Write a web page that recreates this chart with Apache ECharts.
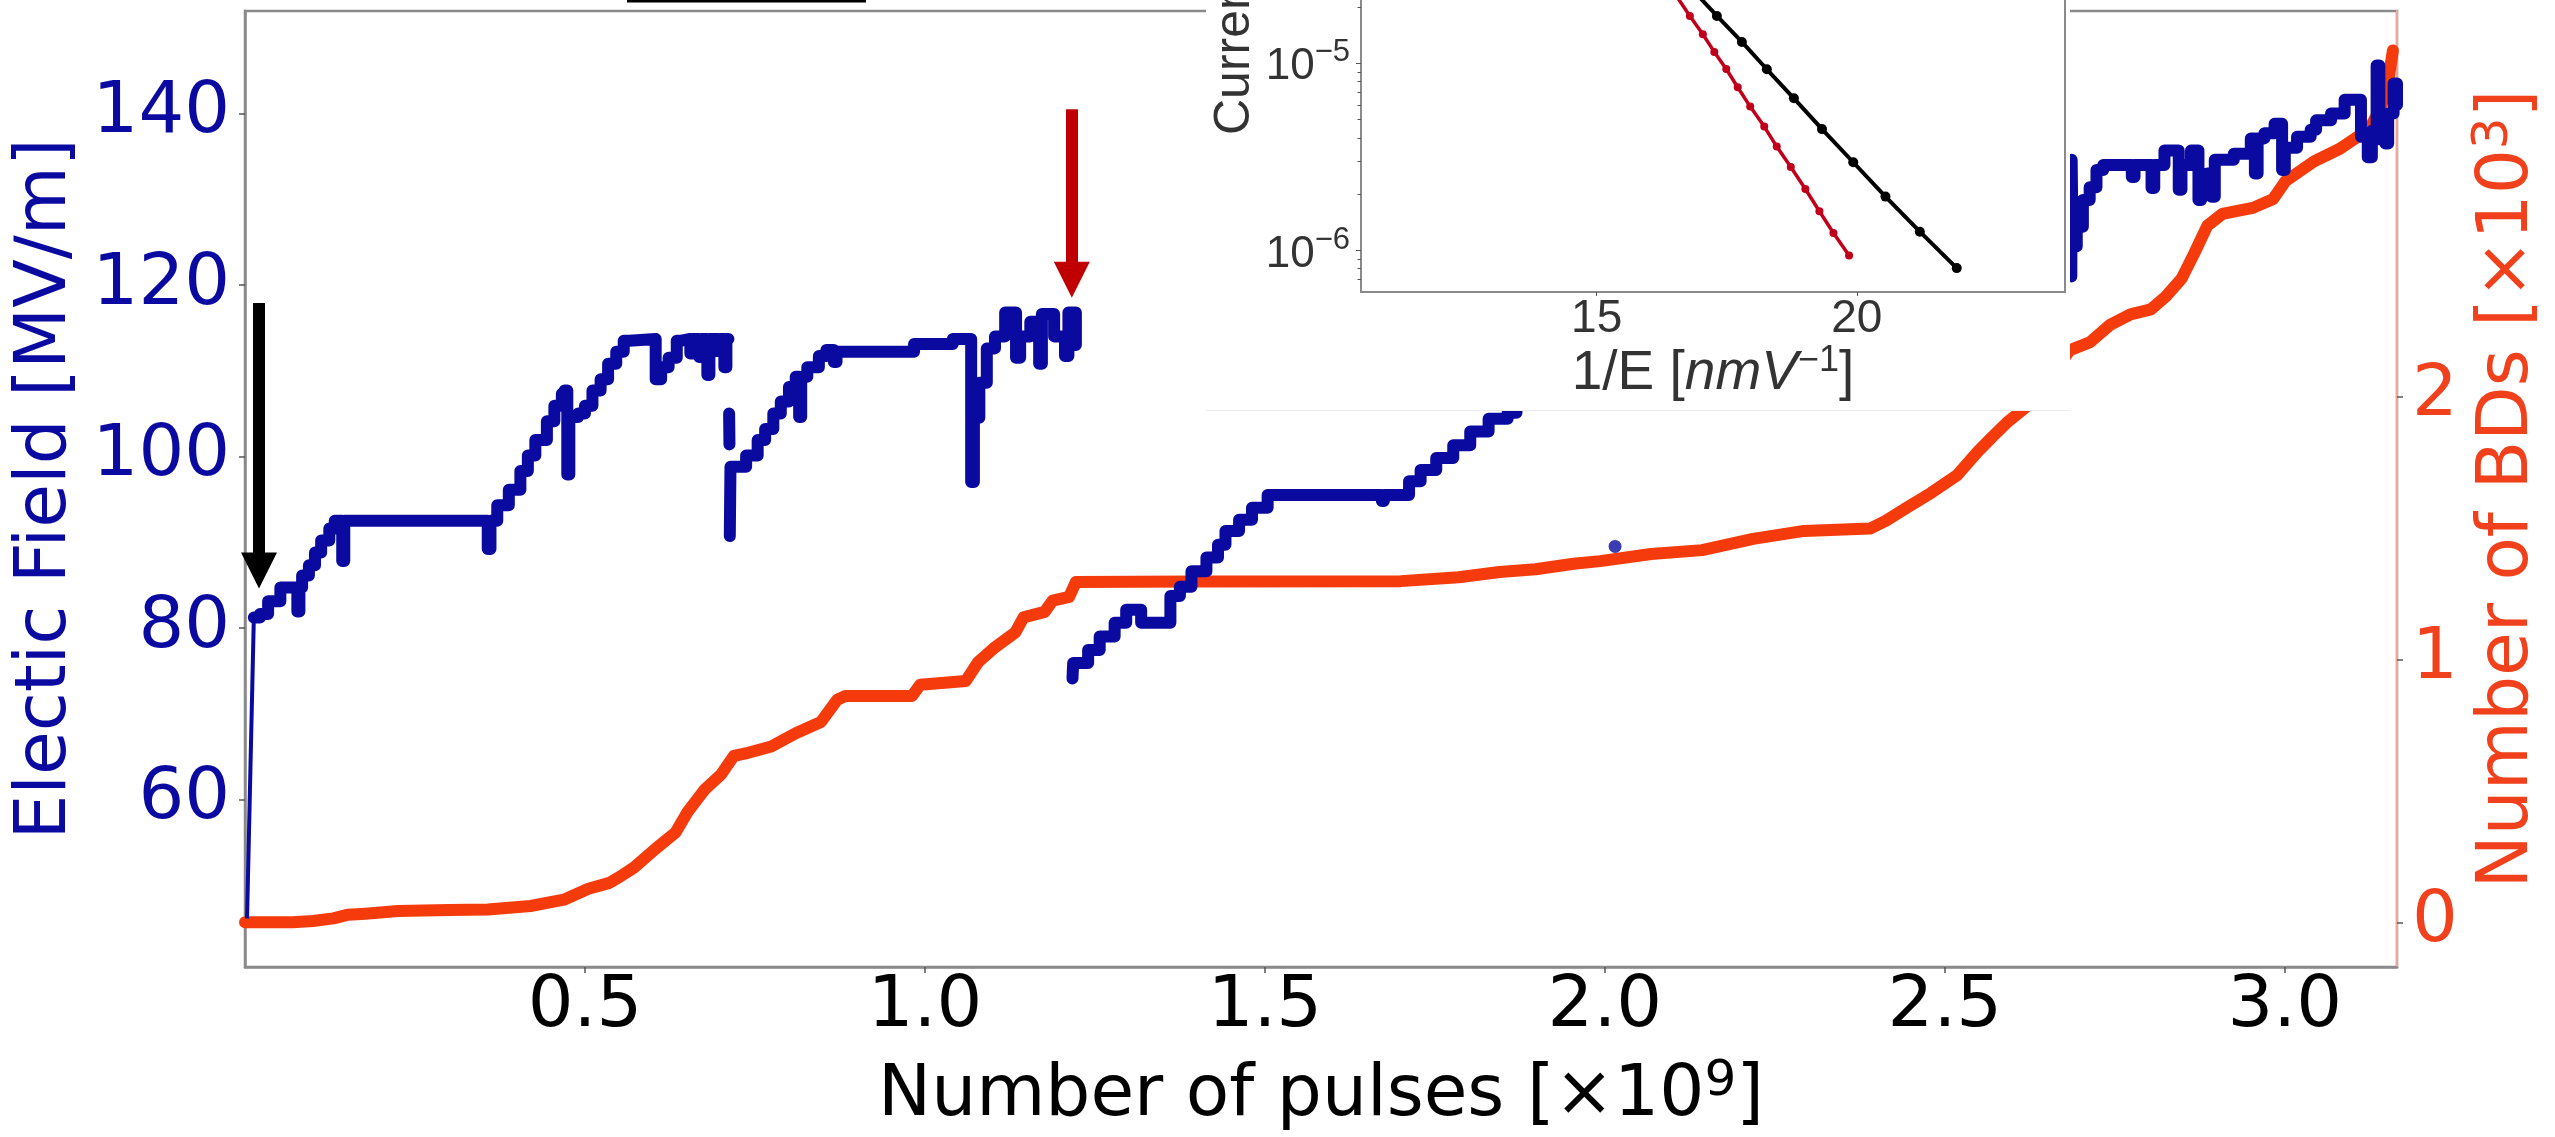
<!DOCTYPE html>
<html>
<head>
<meta charset="utf-8">
<title>Conditioning history</title>
<script src="https://cdn.jsdelivr.net/npm/echarts@6/dist/echarts.min.js"></script>
<style>
html, body { margin: 0; padding: 0; background: #fff; }
#chart { width: 2555px; height: 1137px; }
</style>
</head>
<body>
<div id="chart"></div>
<script>
// main plot: x = number of pulses [x1e9]
// first ramp of the field, drawn thin
var fieldRamp = [[0.003, 46.1], [0.013, 81.2]];
// field [MV/m] on the left axis, drawn as steps, '-' breaks the line
var fieldData = [
  [0.013, 81.2], [0.022, 81.6], [0.034, 83.1], [0.052, 84.7], [0.077, 81.9], [0.080, 84.7],
  [0.084, 86.1], [0.094, 87.3], [0.103, 88.8], [0.112, 90.2], [0.124, 91.6], [0.132, 92.5], [0.143, 87.8],
  [0.146, 92.5], [0.357, 89.2], [0.361, 92.5], [0.371, 94.3], [0.388, 96.1], [0.405, 98.3], [0.416, 100.1],
  [0.427, 101.9], [0.444, 104.1], [0.455, 105.9], [0.466, 107.3], [0.470, 107.7], [0.474, 97.9], [0.477, 104.6],
  [0.490, 105.0], [0.500, 105.9], [0.511, 107.7], [0.523, 109.0], [0.534, 110.8], [0.546, 112.2], [0.557, 113.5],
  [0.565, 113.7], [0.604, 109.0], [0.612, 110.4], [0.623, 111.5], [0.635, 113.5], [0.642, 113.7], [0.655, 112.0],
  [0.658, 113.7], [0.668, 111.6], [0.671, 113.7], [0.680, 109.5], [0.683, 113.7], [0.695, 112.3], [0.698, 113.7],
  [0.705, 110.4], [0.708, 113.7], [0.711, 113.7], [0.711, '-'],
  [0.712, 105.0], [0.7125, 101.4], [0.7125, '-'],
  [0.713, 90.7], [0.714, 98.8], [0.737, 100.1], [0.754, 101.9], [0.765, 103.2], [0.777, 105.0], [0.788, 106.4],
  [0.800, 108.1], [0.810, 109.3], [0.815, 104.6], [0.818, 109.3], [0.827, 110.4], [0.844, 111.7], [0.855, 112.4],
  [0.866, 111.0], [0.870, 112.2], [0.984, 113.1], [1.041, 113.7], [1.068, 97.0], [1.072, 104.5], [1.080, 108.6],
  [1.091, 112.6], [1.103, 114.0], [1.118, 116.8], [1.134, 111.5], [1.140, 114.0], [1.155, 115.7], [1.168, 110.8],
  [1.172, 116.6], [1.190, 114.0], [1.206, 111.7], [1.211, 116.8], [1.222, 113.0], [1.222, '-'],
  [1.217, 74.1], [1.218, 75.9], [1.240, 77.4], [1.257, 79.0], [1.279, 80.6], [1.296, 82.1], [1.318, 80.6],
  [1.361, 83.7], [1.375, 84.8], [1.392, 86.6], [1.414, 88.2], [1.431, 89.7], [1.442, 91.3], [1.462, 92.6],
  [1.481, 94.0], [1.504, 95.5], [1.672, 94.8], [1.675, 95.5], [1.712, 97.1], [1.729, 98.4], [1.752, 99.8],
  [1.777, 101.3], [1.802, 102.9], [1.829, 104.4], [1.857, 105.1], [1.870, 106.0], [1.870, '-'],
  [2.686, 121.0], [2.6865, 134.6], [2.688, 124.5], [2.694, 126.8], [2.703, 129.9], [2.713, 131.4], [2.723, 133.4],
  [2.733, 134.0], [2.775, 132.6], [2.779, 134.0], [2.804, 131.3], [2.808, 134.0], [2.823, 135.7], [2.844, 131.1],
  [2.848, 134.0], [2.862, 135.7], [2.873, 129.9], [2.877, 131.5], [2.886, 133.0], [2.892, 130.3], [2.897, 134.6],
  [2.925, 135.3], [2.950, 137.1], [2.956, 133.0], [2.960, 137.1], [2.970, 137.7], [2.985, 138.8], [2.996, 133.4],
  [3.000, 136.0], [3.018, 137.3], [3.038, 138.1], [3.046, 139.2], [3.068, 140.0], [3.088, 141.6], [3.112, 137.3],
  [3.122, 134.9], [3.128, 138.0], [3.135, 145.6], [3.139, 137.0], [3.148, 136.5], [3.152, 140.0], [3.160, 143.5],
  [3.165, 141.0]
];
var fieldDot = [[2.015, 89.5]];

// cumulative breakdowns [x1e3] on the right axis
var bdData = [
  [0.0, 0.0], [0.07, 0.0], [0.10, 0.005], [0.13, 0.015], [0.152, 0.029], [0.177, 0.033], [0.225, 0.043],
  [0.30, 0.047], [0.357, 0.049], [0.42, 0.062], [0.469, 0.086], [0.505, 0.128], [0.536, 0.150], [0.554, 0.178],
  [0.572, 0.208], [0.603, 0.278], [0.633, 0.341], [0.651, 0.420], [0.676, 0.505], [0.700, 0.562], [0.719, 0.633],
  [0.740, 0.645], [0.774, 0.669], [0.810, 0.719], [0.847, 0.762], [0.871, 0.847], [0.883, 0.861], [0.981, 0.861],
  [0.993, 0.904], [1.060, 0.918], [1.078, 0.989], [1.103, 1.046], [1.133, 1.103], [1.145, 1.160], [1.176, 1.181],
  [1.188, 1.224], [1.212, 1.238], [1.222, 1.295], [1.400, 1.297], [1.700, 1.298], [1.785, 1.313], [1.845, 1.333],
  [1.898, 1.343], [1.954, 1.364], [1.993, 1.374], [2.068, 1.401], [2.143, 1.416], [2.218, 1.459], [2.293, 1.489],
  [2.390, 1.498], [2.413, 1.527], [2.443, 1.576], [2.480, 1.634], [2.518, 1.701], [2.548, 1.789], [2.570, 1.847],
  [2.593, 1.905], [2.630, 1.983], [2.684, 2.177], [2.713, 2.206], [2.743, 2.273], [2.773, 2.313], [2.803, 2.332],
  [2.825, 2.381], [2.848, 2.448], [2.867, 2.546], [2.886, 2.650], [2.908, 2.695], [2.953, 2.718], [2.983, 2.752],
  [3.001, 2.820], [3.043, 2.895], [3.081, 2.943], [3.111, 2.995], [3.126, 3.025], [3.141, 3.100], [3.152, 3.200],
  [3.159, 3.317]
];

// inset: current [A] vs 1/E [nm/V]
var insetBlack = [
  [16.85, 2.46e-5], [17.31, 1.79e-5], [17.79, 1.30e-5], [18.27, 9.29e-6], [18.79, 6.50e-6],
  [19.33, 4.45e-6], [19.93, 2.96e-6], [20.55, 1.94e-6], [21.21, 1.26e-6], [21.92, 8.05e-7]
];
var insetRed = [
  [16.55, 2.25e-5], [16.79, 1.79e-5], [17.04, 1.43e-5], [17.26, 1.15e-5], [17.49, 9.32e-6], [17.71, 7.45e-6],
  [17.95, 5.87e-6], [18.22, 4.59e-6], [18.46, 3.59e-6], [18.73, 2.79e-6], [19.01, 2.13e-6], [19.28, 1.62e-6],
  [19.55, 1.24e-6], [19.85, 9.40e-7]
];

// ticks
var xTicks = [0.5, 1.0, 1.5, 2.0, 2.5, 3.0];
var fieldTicks = [60, 80, 100, 120, 140];
var bdTicks = [0, 1, 2];
var insetXTicks = [15, 20];
var insetYTicks = [1e-6, 1e-5];
var insetYMinor = [7e-7, 8e-7, 9e-7, 2e-6, 3e-6, 4e-6, 5e-6, 6e-6, 7e-6, 8e-6, 9e-6, 2e-5];

// arrows: [x, shaft top, head centre] in field units
var blackArrow = [0.0206, 117.9, 86.7];
var redArrow = [1.216, 140.5, 120.6];

var blue = '#0a0aa0', red = '#f53a0c', gray = '#8a8a8a', tickGray = '#555';
var mainFont = 'DejaVu Sans', insetFont = 'Liberation Sans', insetText = '#333';

var chart = echarts.init(document.getElementById('chart'));

function arrow(a, color) {
  return [{ coord: [a[0], a[1]], lineStyle: { color: color } }, { coord: [a[0], a[2]] }];
}

var mainRich = function (color) {
  return {
    t: { fontSize: 71, fontFamily: mainFont, color: color, lineHeight: 80 },
    s: { fontSize: 50, fontFamily: mainFont, color: color, lineHeight: 32, verticalAlign: 'top' }
  };
};

var option = {
  animation: false,
  backgroundColor: '#fff',
  grid: [
    { left: 245, right: 158, top: 11, bottom: 170, show: true, borderColor: gray, borderWidth: 2.5,
      backgroundColor: 'transparent', outerBoundsMode: 'none' },
    { left: 1361, right: 490, top: 0, bottom: 845, outerBoundsMode: 'none' }
  ],
  xAxis: [
    {
      gridIndex: 0, type: 'value', min: 0, max: 3.165,
      axisLine: { show: true, onZero: false, lineStyle: { color: gray, width: 2.5 } },
      axisTick: { show: true, length: 6, customValues: xTicks, lineStyle: { color: tickGray, width: 1.5 } },
      axisLabel: { customValues: xTicks, margin: 4, fontSize: 72, fontFamily: mainFont, color: '#000',
        formatter: function (v) { return v.toFixed(1); } },
      splitLine: { show: false },
      name: '{t|Number of pulses [×10}{s|9}{t|]}',
      nameLocation: 'middle', nameGap: 90,
      nameTextStyle: { rich: mainRich('#000') }
    },
    {
      gridIndex: 1, type: 'value', min: 10.47, max: 24.0, z: 10,
      axisLine: { show: true, onZero: false, lineStyle: { color: gray, width: 2 } },
      axisTick: { show: true, length: 4, customValues: insetXTicks, lineStyle: { color: tickGray, width: 1 } },
      axisLabel: { customValues: insetXTicks, margin: 4, fontSize: 46, fontFamily: insetFont, color: insetText },
      splitLine: { show: false },
      name: '{t|1/E [}{i|nmV}{s|−1}{t|]}',
      nameLocation: 'middle', nameGap: 50,
      nameTextStyle: { rich: {
        t: { fontSize: 55, fontFamily: insetFont, color: insetText, lineHeight: 62 },
        i: { fontSize: 55, fontFamily: insetFont, fontStyle: 'italic', color: insetText, lineHeight: 62 },
        s: { fontSize: 36, fontFamily: insetFont, color: insetText, lineHeight: 24, verticalAlign: 'top' }
      } }
    }
  ],
  yAxis: [
    {
      gridIndex: 0, type: 'value', position: 'left', min: 40.43, max: 151.96,
      axisLine: { show: true, lineStyle: { color: gray, width: 2.5 } },
      axisTick: { show: true, length: 6, customValues: fieldTicks, lineStyle: { color: tickGray, width: 1.5 } },
      axisLabel: { customValues: fieldTicks, margin: 15, fontSize: 72, fontFamily: mainFont, color: blue },
      splitLine: { show: false },
      name: 'Electic Field [MV/m]', nameLocation: 'middle', nameRotate: 90, nameGap: 160,
      nameTextStyle: { fontSize: 71, fontFamily: mainFont, color: blue }
    },
    {
      gridIndex: 0, type: 'value', position: 'right', min: -0.170, max: 3.467,
      axisLine: { show: true, lineStyle: { color: '#eea596', width: 2 } },
      axisTick: { show: true, length: 6, customValues: bdTicks, lineStyle: { color: tickGray, width: 1.5 } },
      axisLabel: { customValues: bdTicks, margin: 15, fontSize: 72, fontFamily: mainFont, color: '#f0401c' },
      splitLine: { show: false },
      name: '{t|Number of BDs [×10}{s|3}{t|]}', nameLocation: 'middle', nameRotate: 90, nameGap: 61,
      nameTextStyle: { rich: mainRich('#f0401c') }
    },
    {
      gridIndex: 1, type: 'log', logBase: 10, position: 'left', min: 6.0e-7, max: 2.178e-5, z: 10,
      axisLine: { show: true, lineStyle: { color: gray, width: 2 } },
      axisTick: { show: true, length: 5, customValues: insetYTicks, lineStyle: { color: tickGray, width: 1 } },
      axisLabel: {
        customValues: insetYTicks, margin: 11,
        formatter: function (v) {
          var e = Math.round(Math.log(v) / Math.LN10);
          return '{b|10}{s|' + (e < 0 ? '−' + (-e) : e) + '}';
        },
        rich: {
          b: { fontSize: 44, fontFamily: insetFont, color: insetText, lineHeight: 52, verticalAlign: 'bottom' },
          s: { fontSize: 31, fontFamily: insetFont, color: insetText, lineHeight: 24, padding: [0, 0, 42, 0], verticalAlign: 'top' }
        }
      },
      splitLine: { show: false }
    },
    {
      gridIndex: 1, type: 'log', logBase: 10, position: 'left', min: 6.0e-7, max: 2.178e-5, z: 10,
      axisLine: { show: false },
      axisTick: { show: true, length: 3.5, customValues: insetYMinor, lineStyle: { color: tickGray, width: 1 } },
      axisLabel: { show: false },
      splitLine: { show: false }
    },
    {
      gridIndex: 1, type: 'value', position: 'right', min: 0, max: 1, z: 10,
      axisLine: { show: true, lineStyle: { color: gray, width: 2 } },
      axisTick: { show: false }, axisLabel: { show: false }, splitLine: { show: false }
    }
  ],
  series: [
    {
      name: 'BDs', type: 'line', xAxisIndex: 0, yAxisIndex: 1, data: bdData, z: 2,
      showSymbol: false, lineStyle: { color: red, width: 12, cap: 'round', join: 'round' }
    },
    {
      name: 'Field ramp', type: 'line', xAxisIndex: 0, yAxisIndex: 0, data: fieldRamp, z: 3,
      showSymbol: false, lineStyle: { color: blue, width: 4 }
    },
    {
      name: 'Field', type: 'line', xAxisIndex: 0, yAxisIndex: 0, data: fieldData, z: 3,
      step: 'end', connectNulls: false, showSymbol: false,
      lineStyle: { color: blue, width: 12, cap: 'round', join: 'round' },
      markLine: {
        silent: true, animation: false, symbol: ['none', 'triangle'], symbolSize: 36,
        label: { show: false },
        lineStyle: { width: 12, type: 'solid', color: '#000', cap: 'butt' },
        itemStyle: { color: '#000' },
        data: [arrow(blackArrow, '#000'), arrow(redArrow, '#c00000')]
      }
    },
    {
      name: 'Field dot', type: 'scatter', xAxisIndex: 0, yAxisIndex: 0, data: fieldDot, z: 3,
      symbolSize: 13, itemStyle: { color: blue }
    },
    {
      name: 'Inset black', type: 'line', xAxisIndex: 1, yAxisIndex: 2, data: insetBlack, z: 20,
      symbol: 'circle', symbolSize: 10, showSymbol: true,
      lineStyle: { color: '#000', width: 4 }, itemStyle: { color: '#000' }
    },
    {
      name: 'Inset red', type: 'line', xAxisIndex: 1, yAxisIndex: 2, data: insetRed, z: 20,
      symbol: 'circle', symbolSize: 8, showSymbol: true,
      lineStyle: { color: '#c0001a', width: 3.5 }, itemStyle: { color: '#c0001a' }
    }
  ],
  graphic: [
    { type: 'rect', z: 5, silent: true, shape: { x: 1206, y: 0, width: 864, height: 410 }, style: { fill: '#fff' } },
    { type: 'line', z: 5, silent: true, shape: { x1: 1206, y1: 410.5, x2: 2070, y2: 410.5 }, style: { stroke: '#ececec', lineWidth: 1 } },
    { type: 'line', z: 5, silent: true, shape: { x1: 627, y1: 1, x2: 866, y2: 1 }, style: { stroke: '#000', lineWidth: 3 } },
    {
      type: 'text', z: 21, silent: true, x: 1260, y: 135, rotation: Math.PI / 2,
      style: { text: 'Current [A]', fontSize: 50, fontFamily: insetFont, fill: insetText,
        textAlign: 'left', textVerticalAlign: 'bottom', align: 'left', verticalAlign: 'bottom' }
    }
  ]
};

chart.setOption(option);
</script>
</body>
</html>
